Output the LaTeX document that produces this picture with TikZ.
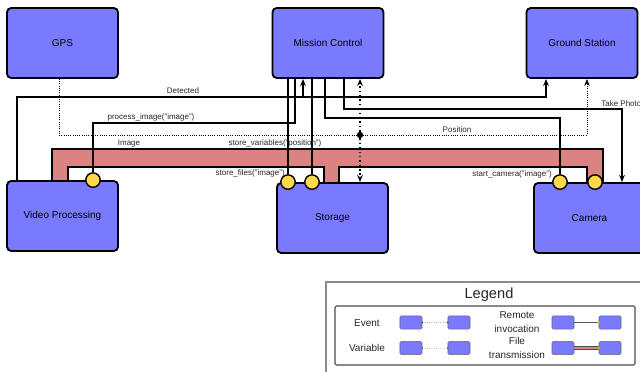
\documentclass[tikz,border=0pt]{standalone}
\usepackage{fontspec}
\setmainfont{Liberation Sans}
\usetikzlibrary{arrows.meta,backgrounds}
\definecolor{compBlue}{HTML}{7A7AFF}
\definecolor{portYellow}{HTML}{FFD94A}
\definecolor{fileRed}{HTML}{DB8383}

\begin{document}
\begin{tikzpicture}[x=0.025cm, y=-0.025cm,
  comp/.style={draw, line width=1.3pt, fill=compBlue, rounded corners=3pt, inner sep=0pt,
    minimum width=2.775cm, minimum height=1.75cm, font=\fontsize{7.1}{8.5}\selectfont},
  port/.style={circle, draw, line width=1pt, fill=portYellow, inner sep=0pt, minimum size=0.36cm},
  wire/.style={line width=0.9pt},
  evt/.style={wire, -{Stealth[length=5pt,width=4pt]}},
  varln/.style={line width=1.1pt, dotted, -{Stealth[length=5pt,width=4pt]}},
  lbl/.style={font=\fontsize{5.7}{6.5}\selectfont, inner sep=0pt, text=black!85},
  mini/.style={draw=black!60, fill=compBlue, rounded corners=1pt, inner sep=0pt,
    minimum width=0.55cm, minimum height=0.33cm},
  keytext/.style={font=\fontsize{7.1}{9.6}\selectfont, align=center, text=black!85}]
\useasboundingbox (0,0) rectangle (640,372);

% components
\node[comp] (gps) at (62.5,43) {GPS};
\node[comp] (mc) at (328,43) {Mission Control};
\node[comp] (gs) at (582,43) {Ground Station};
\node[comp] (vp) at (62.5,216) {Video Processing};
\node[comp] (st) at (332.5,218) {Storage};
\node[comp] (cam) at (589.5,218) {Camera};

% invocation ports
\node[port] (pvp) at (vp.north -| 93,0) {};
\node[port] (pst1) at (st.north -| 288,0) {};
\node[port] (pst2) at (st.north -| 312,0) {};
\node[port] (pcam1) at (cam.north -| 560,0) {};
\node[port] (pcam2) at (cam.north -| 595,0) {};

% junction on the position line
\node[circle, fill, inner sep=0pt, minimum size=0.16cm] (jn) at (360,135) {};

\begin{scope}[on background layer]
  % file transmission band
  \filldraw[fill=fileRed, line width=0.8pt]
    (vp.north -| 52,0) |- (603,149) -- (pcam2.center -| 603,0)
    -- (pcam2.center -| 587,0) |- (339,167) -- (st.north -| 339,0)
    -- (st.north -| 324,0) |- (68,167) -- (vp.north -| 68,0) -- cycle;

  % remote invocations
  \draw[wire] (mc.south -| pst1) -- (pst1);
  \draw[wire] (mc.south -| pst2) -- (pst2);
  \draw[wire] (mc.south -| 295,0) |- (93,123) -- (pvp);
  \draw[wire] (mc.south -| 325,0) |- (560,118) -- (pcam1);

  % events
  \draw[evt] (vp.north -| 17,0) |- (546,97) -- (gs.south -| 546,0);
  \draw[evt] (303,97) -- (mc.south -| 303,0);
  \draw[evt] (mc.south -| 344,0) |- (622,109) -- (cam.north -| 622,0);

  % variables
  \draw[line width=0.6pt, densely dotted, -{Stealth[length=5pt,width=4pt]}]
    (gps.south -| 59,0) |- (587,135) -- (gs.south -| 587,0);
  \draw[varln] (jn) -- (mc.south -| jn);
  \draw[varln] (jn) -- (st.north -| jn);
\end{scope}

% labels
\node[lbl] (l-det) at (183,91) {Detected};
\node[lbl] (l-proc) at (151,117) {process\_image("image")};
\node[lbl] (l-img) at (129,144) {Image};
\node[lbl] (l-var) at (275,143) {store\_variables("position")};
\node[lbl, anchor=east] (l-files) at (285,173) {store\_files("image")};
\node[lbl] (l-pos) at (457,130) {Position};
\node[lbl, anchor=east] (l-cam) at (552,174) {start\_camera("image")};
\node[lbl, anchor=west] (l-photo) at (601,104) {Take Photo};

% legend
\draw[black!45, line width=0.8pt] (326,282) rectangle (660,390);
\node[font=\fontsize{10.4}{12}\selectfont, text=black!85] (lgd) at (489,295) {Legend};
\draw[black!70, line width=0.8pt, rounded corners=1pt] (335,306) rectangle (635,365);

\node[keytext] (k-ev) at (367,323) {Event};
\node[keytext] (k-var) at (367,348) {Variable};
\node[keytext] (k-ri) at (517,322) {Remote\\invocation};
\node[keytext] (k-ft) at (517,348) {File\\transmission};

\node[mini] (ev1) at (411,322.5) {};
\node[mini] (ev2) at (459,322.5) {};
\node[mini] (va1) at (411,348) {};
\node[mini] (va2) at (459,348) {};
\node[mini] (ri1) at (563,322.5) {};
\node[mini] (ri2) at (610,322.5) {};
\node[mini] (ft1) at (563,348) {};
\node[mini] (ft2) at (610,348) {};

\draw[black!30, densely dotted, line width=0.6pt] (ev1) -- (ev2);
\draw[black!20, densely dotted, line width=0.6pt] (va1) -- (va2);
\fill[black!70] (ev1.east) circle (1) (ev2.west) circle (1);
\fill[black!60] (va1.east) circle (1) (va2.west) circle (1);
\draw[black!65, line width=0.6pt] (ri1) -- (ri2);
\draw[black!70, line width=2.4pt] (ft1) -- (ft2);
\draw[fileRed, line width=1.2pt] (ft1) -- (ft2);
\fill[portYellow!80!black] (ri2.west) circle (1.6) (ft2.west) circle (1.6);
\end{tikzpicture}
\end{document}
